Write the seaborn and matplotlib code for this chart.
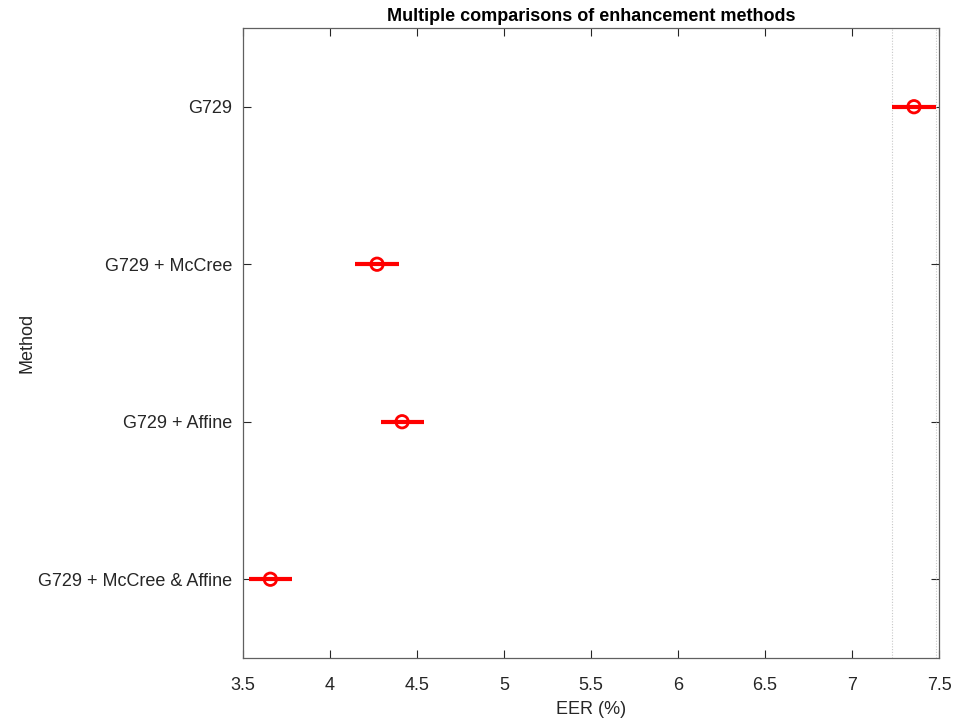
import matplotlib
matplotlib.use("Agg")
import matplotlib.pyplot as plt
import seaborn as sns
import pandas as pd

methods = ["G729", "G729 + McCree", "G729 + Affine", "G729 + McCree & Affine"]
means = [7.356, 4.270, 4.414, 3.657]
lower = [7.232, 4.144, 4.290, 3.533]
upper = [7.482, 4.396, 4.540, 3.783]
xticks = [3.5, 4, 4.5, 5, 5.5, 6, 6.5, 7, 7.5]
ref_lines = [7.232, 7.482]

df = pd.DataFrame({"Method": methods, "EER": means, "lo": lower, "hi": upper})
df["pos"] = range(1, len(methods) + 1)

sns.set_style("white")
plt.rcParams["font.family"] = ["Liberation Sans", "DejaVu Sans"]

fig = plt.figure(figsize=(9.58, 7.21), dpi=100)
ax = fig.add_axes([0.2537, 0.0874, 0.7265, 0.8738])

for v in ref_lines:
    ax.axvline(v, color="#c8c8c8", linestyle=(0, (1, 1.5)), linewidth=0.8, zorder=1)

ax.hlines(df["pos"], df["lo"], df["hi"], color="#ff0000", linewidth=3, zorder=2)
sns.scatterplot(data=df, x="EER", y="pos", ax=ax, marker="o", s=80,
                facecolor="none", edgecolor="#ff0000", linewidth=2, zorder=3)

ax.set_xlim(3.5, 7.5)
ax.set_ylim(4.5, 0.5)
ax.set_xticks(xticks)
ax.set_xticklabels([f"{t:g}" for t in xticks])
ax.set_yticks(df["pos"])
ax.set_yticklabels(methods)
ax.tick_params(direction="in", length=6, width=0.8, color="#262626",
               labelsize=13, labelcolor="#262626", top=True, right=True,
               bottom=True, left=True)
ax.tick_params(axis="x", pad=14)
ax.tick_params(axis="y", pad=8)
for s in ax.spines.values():
    s.set_color("#606060")
    s.set_linewidth(0.9)
ax.set_xlabel("EER (%)", fontsize=13, color="#262626", labelpad=5)
ax.set_ylabel("Method", fontsize=13, color="#262626", labelpad=2)
ax.set_title("Multiple comparisons of enhancement methods", fontsize=13,
             fontweight="bold", color="black", pad=5)

fig.savefig("out.png", dpi=100)
